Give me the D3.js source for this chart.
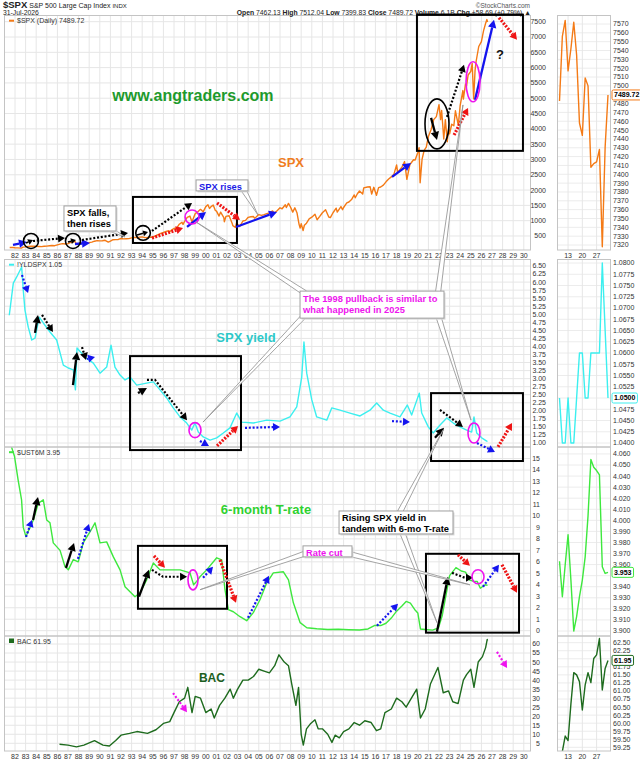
<!DOCTYPE html>
<html>
<head>
<meta charset="utf-8">
<script src="https://cdn.jsdelivr.net/npm/d3@7/dist/d3.min.js"></script>
<style>
html,body{margin:0;padding:0;background:#fff;}
svg{display:block;}
</style>
</head>
<body>
<svg id="chart" width="640" height="762"></svg>
<script>
// ---------------- DATA ----------------
const yearTicks=[1982,1983,1984,1985,1986,1987,1988,1989,1990,1991,1992,1993,1994,1995,1996,1997,1998,1999,2000,2001,2002,2003,2004,2005,2006,2007,2008,2009,2010,2011,2012,2013,2014,2015,2016,2017,2018,2019,2020,2021,2022,2023,2024,2025,2026,2027,2028,2029,2030];
const yearLabels=["82","83","84","85","86","87","88","89","90","91","92","93","94","95","96","97","98","99","00","01","02","03","04","05","06","07","08","09","10","11","12","13","14","15","16","17","18","19","20","21","22","23","24","25","26","27","28","29","30"];

const spxTicks=[500,1000,1500,2000,2500,3000,3500,4000,4500,5000,5500,6000,6500,7000,7500];
const yldTicks=[1.00,1.25,1.50,1.75,2.00,2.25,2.50,2.75,3.00,3.25,3.50,3.75,4.00,4.25,4.50,4.75,5.00,5.25,5.50,5.75,6.00,6.25,6.50];
const ustTicks=[0,1,2,3,4,5,6,7,8,9,10,11,12,13,14,15];
const bacTicks=[5,10,15,20,25,30,35,40,45,50,55,60];

// [decimal year, value]
const spxData=[[1981.5,126],[1981.8,122],[1982.0,115],[1982.25,111],[1982.6,104],[1982.75,135],[1983.0,145],[1983.25,160],[1983.5,168],[1983.75,165],[1984.0,165],[1984.25,158],[1984.5,152],[1984.75,166],[1985.0,170],[1985.25,181],[1985.5,190],[1985.75,183],[1986.0,211],[1986.25,236],[1986.5,250],[1986.75,240],[1987.0,250],[1987.25,290],[1987.5,305],[1987.65,330],[1987.8,225],[1988.0,245],[1988.25,265],[1988.5,272],[1988.75,276],[1989.0,285],[1989.25,300],[1989.5,330],[1989.75,350],[1990.0,340],[1990.25,345],[1990.5,360],[1990.8,300],[1991.0,330],[1991.25,378],[1991.5,380],[1991.75,387],[1992.0,417],[1992.25,405],[1992.5,412],[1992.75,415],[1993.0,437],[1993.25,450],[1993.5,448],[1993.75,462],[1994.0,470],[1994.25,445],[1994.5,452],[1994.75,462],[1995.0,460],[1995.25,502],[1995.5,545],[1995.75,584],[1996.0,615],[1996.25,650],[1996.5,670],[1996.6,640],[1996.75,690],[1997.0,745],[1997.25,760],[1997.5,885],[1997.75,950],[1997.85,880],[1998.0,975],[1998.25,1110],[1998.5,1150],[1998.7,960],[1998.85,1100],[1999.0,1230],[1999.25,1290],[1999.5,1370],[1999.75,1290],[2000.0,1460],[2000.2,1520],[2000.35,1400],[2000.5,1460],[2000.7,1510],[2000.9,1330],[2001.0,1320],[2001.25,1150],[2001.4,1280],[2001.7,1100],[2001.75,965],[2001.9,1140],[2002.0,1150],[2002.2,1160],[2002.5,900],[2002.55,840],[2002.8,780],[2002.9,930],[2003.0,880],[2003.2,810],[2003.5,990],[2003.75,1010],[2004.0,1110],[2004.25,1130],[2004.5,1135],[2004.6,1080],[2004.75,1120],[2005.0,1200],[2005.25,1175],[2005.5,1200],[2005.75,1230],[2006.0,1255],[2006.3,1320],[2006.45,1240],[2006.75,1335],[2007.0,1420],[2007.2,1390],[2007.5,1520],[2007.6,1430],[2007.8,1565],[2008.0,1440],[2008.2,1280],[2008.4,1420],[2008.6,1260],[2008.8,880],[2008.9,760],[2009.0,900],[2009.18,680],[2009.3,850],[2009.5,920],[2009.75,1060],[2010.0,1115],[2010.3,1210],[2010.5,1030],[2010.75,1140],[2011.0,1260],[2011.3,1360],[2011.6,1120],[2011.75,1100],[2012.0,1260],[2012.3,1410],[2012.4,1280],[2012.75,1460],[2012.9,1360],[2013.0,1430],[2013.3,1580],[2013.5,1610],[2013.75,1690],[2014.0,1840],[2014.1,1750],[2014.3,1880],[2014.5,1970],[2014.8,1870],[2014.9,2070],[2015.25,2100],[2015.5,2110],[2015.65,1870],[2015.85,2090],[2016.1,1830],[2016.3,2080],[2016.5,2100],[2016.75,2160],[2017.0,2270],[2017.25,2360],[2017.5,2430],[2017.75,2520],[2018.0,2820],[2018.1,2580],[2018.5,2750],[2018.75,2930],[2018.97,2350],[2019.25,2830],[2019.4,2900],[2019.6,2990],[2019.75,2980],[2020.0,3230],[2020.12,3386],[2020.22,2237],[2020.4,3000],[2020.6,3300],[2020.8,3400],[2021.0,3750],[2021.25,3970],[2021.5,4300],[2021.75,4400],[2022.0,4790],[2022.15,4300],[2022.25,4600],[2022.45,3670],[2022.6,4300],[2022.78,3580],[2022.9,4000],[2023.0,3840],[2023.2,4150],[2023.4,4100],[2023.55,4590],[2023.82,4120],[2024.0,4770],[2024.25,5250],[2024.3,4970],[2024.5,5470],[2024.6,5400],[2024.75,5760],[2025.0,5880],[2025.13,6140],[2025.27,4980],[2025.4,5900],[2025.5,6200],[2025.75,6690],[2026.0,6850],[2026.2,7200],[2026.4,7450],[2026.52,7570],[2026.58,7490]];

const yldData=[[1981.46,4.97],[1981.84,5.97],[1982.16,6.16],[1982.63,6.47],[1982.78,5.75],[1982.94,5.13],[1983.25,4.6],[1983.58,4.2],[1983.89,4.26],[1984.29,4.91],[1984.67,4.73],[1985.3,4.45],[1985.93,4.2],[1986.56,3.42],[1987.03,3.33],[1987.5,3.27],[1987.7,2.65],[1987.85,3.95],[1988.6,3.67],[1989.39,3.48],[1990.02,3.17],[1990.65,3.36],[1991.06,4.04],[1991.43,3.36],[1991.91,3.11],[1992.38,2.96],[1992.85,3.05],[1993.48,2.8],[1994.42,2.86],[1995.05,2.9],[1995.68,2.65],[1996.31,2.4],[1996.93,2.09],[1997.57,1.81],[1998.2,1.62],[1998.67,1.4],[1998.98,1.62],[1999.29,1.34],[1999.76,1.19],[2000.4,1.09],[2001.03,1.16],[2001.65,1.31],[2002.28,1.47],[2002.92,1.93],[2003.39,1.65],[2004.48,1.62],[2005.75,1.71],[2007.0,1.68],[2007.94,1.81],[2008.58,2.12],[2009.05,3.05],[2009.26,4.14],[2009.52,3.17],[2010.0,2.34],[2010.46,1.81],[2011.41,1.71],[2011.88,2.09],[2012.66,2.02],[2013.6,1.93],[2014.55,1.84],[2015.49,2.02],[2016.12,2.24],[2016.75,2.02],[2017.38,1.93],[2018.32,1.81],[2019.01,2.18],[2019.42,1.87],[2020.14,2.55],[2020.37,1.93],[2020.99,1.5],[2021.46,1.31],[2022.1,1.56],[2022.73,1.78],[2023.35,1.62],[2023.98,1.5],[2024.61,1.4],[2025.08,1.34],[2025.3,1.81],[2025.56,1.31],[2026.03,1.16],[2026.5,1.06],[2026.58,1.05]];

const ustData=[[1981.5,16.5],[1981.95,15.2],[1982.3,13.1],[1982.62,11.4],[1982.78,9.0],[1983.03,8.2],[1983.42,9.0],[1983.73,9.65],[1984.2,11.1],[1984.67,11.4],[1984.99,9.65],[1985.3,9.4],[1985.61,7.65],[1986.25,7.0],[1986.72,5.57],[1987.03,5.3],[1987.5,6.2],[1987.97,6.0],[1988.44,7.65],[1989.07,8.6],[1989.55,9.4],[1990.02,7.65],[1990.65,7.74],[1991.28,6.43],[1991.91,5.3],[1992.38,3.83],[1992.85,3.39],[1993.32,2.96],[1993.79,3.3],[1994.42,4.43],[1995.05,5.9],[1995.68,5.3],[1996.62,5.3],[1997.57,5.3],[1998.51,5.04],[1998.85,4.0],[1999.14,4.3],[1999.45,4.7],[2000.08,5.3],[2001.03,6.35],[2001.5,6.17],[2001.81,3.57],[2002.13,1.83],[2002.6,1.65],[2003.23,1.22],[2003.86,0.87],[2004.48,1.57],[2005.11,2.7],[2005.75,4.17],[2006.37,5.04],[2007.32,5.13],[2007.8,4.43],[2008.26,2.43],[2008.9,0.7],[2009.53,0.26],[2010.47,0.17],[2011.5,0.1],[2012.5,0.12],[2013.5,0.08],[2014.5,0.06],[2015.3,0.15],[2015.9,0.45],[2016.5,0.45],[2017.0,0.65],[2017.5,1.1],[2018.0,1.7],[2018.5,2.15],[2018.9,2.55],[2019.3,2.4],[2019.7,1.85],[2020.0,1.55],[2020.25,0.15],[2020.7,0.1],[2021.4,0.05],[2021.95,0.25],[2022.3,1.3],[2022.7,3.3],[2023.0,4.8],[2023.6,5.5],[2024.1,5.2],[2024.5,5.1],[2024.9,4.4],[2025.3,4.3],[2025.6,4.3],[2025.9,3.7],[2026.35,4.0],[2026.58,3.95]];

const bacData=[[1986.2,4.5],[1987.0,4.0],[1987.8,3.0],[1988.5,4.0],[1989.5,6.5],[1990.3,4.0],[1990.9,3.5],[1991.5,6.5],[1992.0,9.5],[1992.8,10.5],[1993.5,11.5],[1994.5,10.5],[1995.3,12.5],[1996.0,16],[1996.6,17],[1997.0,22],[1997.5,28],[1998.0,30],[1998.3,36],[1998.7,22],[1999.0,31],[1999.5,30],[2000.0,22],[2000.5,24],[2000.8,19],[2001.3,26],[2001.8,30],[2002.3,35],[2002.6,30],[2003.0,35],[2003.5,40],[2004.0,40],[2004.5,42],[2005.0,46],[2005.5,45],[2006.0,44],[2006.5,48],[2006.9,54],[2007.4,50],[2007.8,48],[2008.1,38],[2008.5,26],[2008.75,36],[2009.0,10],[2009.2,4],[2009.5,13],[2009.9,16],[2010.3,18],[2010.6,13],[2011.0,13],[2011.5,10],[2011.9,5.5],[2012.2,9.5],[2012.6,8],[2013.0,11.5],[2013.5,13],[2014.0,16.5],[2014.5,15],[2015.0,17.5],[2015.6,16.5],[2016.1,12],[2016.5,13],[2016.9,22],[2017.5,24],[2018.0,30],[2018.5,28],[2018.9,25],[2019.3,29],[2019.9,35],[2020.25,19],[2020.7,24],[2021.2,38],[2021.9,47],[2022.4,33],[2022.9,34],[2023.3,28],[2023.8,27],[2024.3,40],[2024.6,43],[2025.0,46],[2025.3,36],[2025.7,50],[2026.1,53],[2026.4,58],[2026.55,62.5],[2026.58,61.95]];

// last month (July 2026) inset panels
const miniDays=[8,9,10,13,14,15,16,17,20,21,22,23,24,27,28,29,30,31];
const miniDayTicks=[13,20,27];
const miniSpx=[7483,7556,7574,7517,7542,7572,7535,7458,7444,7509,7500,7408,7412,7414,7428,7318,7431,7489.72];
const miniYld=[1.05,1.04,1.04,1.05,1.04,1.04,1.05,1.06,1.06,1.05,1.05,1.06,1.06,1.06,1.06,1.08,1.065,1.05];
const miniUst=[3.963,3.931,3.96,3.987,3.946,3.900,3.913,3.931,3.946,3.967,4.004,4.055,4.048,4.045,4.041,3.958,3.952,3.953];
const miniBac=[58.7,59.12,59.6,59.46,60.6,61.57,61.5,61.29,60.41,61.19,61.57,61.26,62.01,62.12,62.63,61.03,61.7,61.95];
const miniSpxTicks=[7320,7330,7340,7350,7360,7370,7380,7390,7400,7410,7420,7430,7440,7450,7460,7470,7480,7490,7500,7510,7520,7530,7540,7550,7560,7570];
const miniYldTicks=[1.04,1.0425,1.045,1.0475,1.05,1.0525,1.055,1.0575,1.06,1.0625,1.065,1.0675,1.07,1.0725,1.075,1.0775,1.08];
const miniUstTicks=[3.90,3.91,3.92,3.93,3.94,3.95,3.96,3.97,3.98,3.99,4.00,4.01,4.02,4.03,4.04,4.05,4.06];
const miniBacTicks=[59.25,59.5,59.75,60,60.25,60.5,60.75,61,61.25,61.5,61.75,62,62.25,62.5];

// ---------------- ANNOTATIONS (data coordinates: panel, year, value) ----------------
const annoBoxes=[
 {p:0,x0:1993.13,x1:2002.94,y0:1776,y1:272},
 {p:0,x0:2019.92,x1:2029.92,y0:7730,y1:3281},
 {p:1,x0:1992.85,x1:2003.32,y0:3.70,y1:0.78},
 {p:1,x0:2021.25,x1:2029.92,y0:2.55,y1:0.44},
 {p:2,x0:1993.6,x1:2002.0,y0:7.39,y1:1.91},
 {p:2,x0:2020.77,x1:2029.55,y0:6.70,y1:-0.17}
];
const annoArrows=[
 {p:0,pts:[[1981.81,206],[1983.13,304]],c:"blue",d:false},
 {p:0,pts:[[1983.04,272],[1983.7,370]],c:"black",d:false,s:true},
 {p:0,pts:[[1983.7,337],[1986.72,435]],c:"black",d:true},
 {p:0,pts:[[1987.0,304],[1987.75,370]],c:"black",d:false,s:true},
 {p:0,pts:[[1987.66,239],[1989.08,272]],c:"blue",d:false},
 {p:0,pts:[[1988.32,370],[1992.66,599]],c:"black",d:true},
 {p:0,pts:[[1993.51,533],[1994.55,631]],c:"black",d:false,s:true},
 {p:0,pts:[[1994.92,664],[1998.7,1580]],c:"black",d:true},
 {p:0,pts:[[1994.92,435],[1997.85,762]],c:"red",d:true},
 {p:0,pts:[[1998.23,795],[2000.02,1286]],c:"blue",d:false},
 {p:0,pts:[[2001.06,1580],[2003.23,1024]],c:"red",d:true},
 {p:0,pts:[[2002.85,795],[2006.72,1286]],c:"blue",d:false},
 {p:0,pts:[[2017.57,2430],[2019.36,2888]],c:"blue",d:false},
 {p:0,pts:[[2021.25,4357],[2021.81,3638]],c:"black",d:false},
 {p:0,pts:[[2022.75,4390],[2024.36,6091]],c:"black",d:true},
 {p:0,pts:[[2023.42,3801],[2024.74,4684]],c:"red",d:true},
 {p:0,pts:[[2025.4,4946],[2027.19,7566]],c:"blue",d:false},
 {p:0,pts:[[2027.66,7632],[2029.36,6912]],c:"red",d:true},
 {p:1,pts:[[1982.66,6.22],[1983.23,5.66]],c:"blue",d:true},
 {p:1,pts:[[1983.89,4.42],[1984.17,4.98]],c:"black",d:false},
 {p:1,pts:[[1984.55,4.98],[1985.58,4.45]],c:"black",d:true},
 {p:1,pts:[[1987.47,2.80],[1987.85,3.83]],c:"black",d:false},
 {p:1,pts:[[1988.32,3.98],[1988.7,3.58]],c:"black",d:true},
 {p:1,pts:[[1988.79,3.61],[1989.55,3.67]],c:"blue",d:true},
 {p:1,pts:[[1993.6,2.55],[1994.45,2.71]],c:"black",d:false},
 {p:1,pts:[[1994.45,2.96],[1995.21,2.96],[1998.23,1.71]],c:"black",d:true},
 {p:1,pts:[[1999.45,1.06],[2000.3,0.91]],c:"blue",d:true},
 {p:1,pts:[[2001.06,0.91],[2003.04,1.53]],c:"red",d:true},
 {p:1,pts:[[2003.7,1.47],[2007.0,1.50]],c:"blue",d:true},
 {p:1,pts:[[2017.57,1.68],[2019.26,1.65]],c:"blue",d:true},
 {p:1,pts:[[2022.09,2.03],[2024.26,1.50]],c:"black",d:true},
 {p:1,pts:[[2021.62,1.16],[2022.47,1.47]],c:"black",d:false},
 {p:1,pts:[[2025.58,1.0],[2027.28,0.72]],c:"blue",d:true},
 {p:1,pts:[[2027.57,0.88],[2028.89,1.62]],c:"red",d:true},
 {p:2,pts:[[1983.04,8.17],[1983.6,9.65]],c:"blue",d:true},
 {p:2,pts:[[1983.7,9.65],[1984.17,11.65]],c:"black",d:false},
 {p:2,pts:[[1986.81,5.48],[1987.57,7.65]],c:"black",d:false},
 {p:2,pts:[[1987.94,6.26],[1988.98,9.30]],c:"blue",d:true},
 {p:2,pts:[[1993.7,2.96],[1994.64,5.30]],c:"black",d:false},
 {p:2,pts:[[1994.92,5.30],[1995.96,4.70],[1998.23,4.70]],c:"black",d:true},
 {p:2,pts:[[1995.11,6.52],[1996.15,5.48]],c:"red",d:true},
 {p:2,pts:[[1999.74,4.61],[2000.68,5.57]],c:"blue",d:true},
 {p:2,pts:[[2001.34,6.17],[2002.85,2.43]],c:"red",d:true},
 {p:2,pts:[[2003.98,1.13],[2005.96,4.78]],c:"blue",d:true},
 {p:2,pts:[[2016.15,0.43],[2018.13,2.35]],c:"blue",d:true},
 {p:2,pts:[[2021.81,-0.09],[2022.85,4.70]],c:"black",d:false},
 {p:2,pts:[[2023.23,5.04],[2024.45,4.61],[2025.21,4.61]],c:"black",d:true},
 {p:2,pts:[[2023.79,6.61],[2024.92,5.65]],c:"red",d:true},
 {p:2,pts:[[2026.15,3.83],[2027.66,5.74]],c:"blue",d:true},
 {p:2,pts:[[2027.94,5.74],[2029.36,3.30]],c:"red",d:true},
 {p:3,pts:[[1996.91,32.8],[1998.23,22.2]],c:"magenta",d:true},
 {p:3,pts:[[2027.47,55.6],[2028.42,46.7]],c:"magenta",d:true}
];
const annoEllipses=[
 {p:0,x:1983.51,y:337,rx:7.5,ry:7.5,c:"black"},
 {p:0,x:1987.47,y:337,rx:7.5,ry:7.5,c:"black"},
 {p:0,x:1994.08,y:599,rx:7.3,ry:7.3,c:"black"},
 {p:0,x:1998.7,y:1122,rx:7,ry:7,c:"magenta"},
 {p:0,x:2021.81,y:4163,rx:12,ry:25,c:"black"},
 {p:0,x:2025.21,y:5538,rx:7,ry:20,c:"magenta"},
 {p:1,x:1998.98,y:1.40,rx:6,ry:7.5,c:"magenta"},
 {p:1,x:2025.3,y:1.31,rx:6,ry:10,c:"magenta"},
 {p:2,x:1998.79,y:4.43,rx:5,ry:10,c:"magenta"},
 {p:2,x:2025.68,y:4.70,rx:6,ry:7,c:"magenta"}
];
const annoTexts=[
 {p:0,x:1998.79,y:5083,t:"www.angtraders.com",size:16,c:"#1e9a2c"},
 {p:0,x:2008.04,y:2888,t:"SPX",size:13,c:"#f07d1e"},
 {p:0,x:2027.75,y:6421,t:"?",size:13,c:"#111"},
 {p:1,x:2003.79,y:4.29,t:"SPX yield",size:13,c:"#2ec8c8"},
 {p:2,x:2005.68,y:10.6,t:"6-month T-rate",size:13,c:"#2fd12f"},
 {p:3,x:2000.58,y:41.1,t:"BAC",size:12,c:"#1b5e20"}
];
const annoCallouts=[
 {p:0,x0:1986.62,x1:1991.53,y0:1482,y1:664,lines:["SPX falls,","then rises"],c:"#000",
  tails:[{from:[0,1990.77,762],to:[0,1992.38,468]}]},
 {p:0,x0:1999.08,x1:2003.98,y0:2332,y1:1973,lines:["SPX rises"],c:"#1a1ae6",
  tails:[{from:[0,2003.51,2038],to:[0,2004.92,1188]}]},
 {p:1,x0:2008.89,x1:2022.47,y0:5.72,y1:4.88,lines:["The 1998 pullback is similar to","what happened in 2025"],c:"#ee14ee",
  tails:[{from:[1,2009.36,5.66],to:[0,1999.08,958]},{from:[1,2009.36,4.98],to:[1,1999.74,1.65]},
         {from:[1,2021.9,5.66],to:[0,2024.26,4782]},{from:[1,2021.9,4.98],to:[1,2025.02,1.71]}]},
 {p:2,x0:2012.57,x1:2023.32,y0:10.43,y1:8.43,lines:["Rising SPX yield in","tandem with 6-mo T-rate"],c:"#000",
  tails:[{from:[2,2018.32,10.35],to:[1,2022.38,1.40]},{from:[2,2018.51,8.61],to:[2,2021.81,0.70]}]},
 {p:2,x0:2009.17,x1:2013.79,y0:7.39,y1:6.43,lines:["Rate cut"],c:"#ee14ee",
  tails:[{from:[2,2009.83,6.87],to:[2,1999.45,3.57]},{from:[2,2013.13,6.79],to:[2,2024.92,4.0]}]}
];

// ---------------- LAYOUT ----------------
const F='"Liberation Sans", Arial, Helvetica, sans-serif';
const svg=d3.select("#chart");
const PL=4, PR=531, ML=557, MR=611;
const xMain=d3.scaleLinear().domain([1982,2030]).range([15,523.8]);
const xMini=d3.scaleLinear().domain([0,miniDays.length-1]).range([559.5,608]);
const COLORS={blue:"#1414ee",black:"#000",red:"#ee1414",magenta:"#ee14ee"};

const panels=[
 {top:15.5,bottom:250,y:d3.scaleLinear().domain([0,7500]).range([251.3,21.7]),ticks:spxTicks,fmt:d3.format("d"),labX:546,
  color:"#f47a16",data:spxData,my:d3.scaleLinear().domain([7320,7570]).range([245,24]),mticks:miniSpxTicks,mfmt:d3.format(".0f"),
  mdata:miniSpx,last:7489.72,lastTxt:"7489.72",legend:"$SPX (Daily) 7489.72",marker:"line",lw:1.4},
 {top:259.5,bottom:447,y:d3.scaleLinear().domain([1,6.5]).range([443,266]),ticks:yldTicks,fmt:d3.format(".2f"),labX:546,
  color:"#3cefef",data:yldData,my:d3.scaleLinear().domain([1.04,1.08]).range([443,263]),mticks:miniYldTicks,mfmt:d3.format(".4f"),
  mdata:miniYld,last:1.05,lastTxt:"1.0500",legend:"!YLDSPX 1.05",marker:"line",lw:1.4},
 {top:447,bottom:636,y:d3.scaleLinear().domain([0,14]).range([630.7,470]),ticks:ustTicks,fmt:d3.format("d"),labX:540,
  color:"#3ee83e",data:ustData,my:d3.scaleLinear().domain([3.9,4.05]).range([631,465]),mticks:miniUstTicks,mfmt:d3.format(".3f"),
  mdata:miniUst,last:3.953,lastTxt:"3.953",legend:"$UST6M 3.95",marker:"line",lw:1.4},
 {top:636,bottom:751,y:d3.scaleLinear().domain([5,60]).range([743.3,644]),ticks:bacTicks,fmt:d3.format("d"),labX:540,
  color:"#1e6b1e",data:bacData,my:d3.scaleLinear().domain([59.25,62.5]).range([747.3,642.7]),mticks:miniBacTicks,mfmt:d3.format(".2f"),
  mdata:miniBac,last:61.95,lastTxt:"61.95",legend:"BAC 61.95",marker:"box",lw:1.4}
];

svg.append("rect").attr("width",640).attr("height",762).attr("fill","#fff");
const defs=svg.append("defs");
const gGrid=svg.append("g"), gSer=svg.append("g"), gFrame=svg.append("g"), gAnno=svg.append("g"), gTop=svg.append("g");

panels.forEach((P,i)=>{
  defs.append("clipPath").attr("id","cm"+i).append("rect").attr("x",PL).attr("y",P.top).attr("width",PR-PL).attr("height",P.bottom-P.top);
  defs.append("clipPath").attr("id","cs"+i).append("rect").attr("x",ML).attr("y",P.top).attr("width",MR-ML).attr("height",P.bottom-P.top);
  gGrid.selectAll(null).data(P.ticks.filter(t=>P.y(t)>P.top+1&&P.y(t)<P.bottom-1)).join("line")
    .attr("x1",PL).attr("x2",PR).attr("y1",d=>P.y(d)).attr("y2",d=>P.y(d)).attr("stroke","#e6e6e6").attr("stroke-width",1);
  gGrid.selectAll(null).data(yearTicks).join("line")
    .attr("x1",d=>xMain(d)).attr("x2",d=>xMain(d)).attr("y1",P.top).attr("y2",P.bottom).attr("stroke","#e6e6e6").attr("stroke-width",1);
  gGrid.selectAll(null).data(P.mticks.filter(t=>P.my(t)>P.top+1&&P.my(t)<P.bottom-1)).join("line")
    .attr("x1",ML).attr("x2",MR).attr("y1",d=>P.my(d)).attr("y2",d=>P.my(d)).attr("stroke","#ececec");
  gGrid.selectAll(null).data(miniDayTicks).join("line")
    .attr("x1",d=>xMini(miniDays.indexOf(d))).attr("x2",d=>xMini(miniDays.indexOf(d))).attr("y1",P.top).attr("y2",P.bottom).attr("stroke","#e6e6e6");
  gSer.append("path").attr("clip-path",`url(#cm${i})`)
    .attr("d",d3.line().x(d=>xMain(d[0])).y(d=>P.y(d[1]))(P.data))
    .attr("fill","none").attr("stroke",P.color).attr("stroke-width",P.lw).attr("stroke-linejoin","round");
  gSer.append("path").attr("clip-path",`url(#cs${i})`)
    .attr("d",d3.line().x((d,k)=>xMini(k)).y(d=>P.my(d))(P.mdata))
    .attr("fill","none").attr("stroke",P.color).attr("stroke-width",1.4).attr("stroke-linejoin","round");
  gFrame.append("rect").attr("x",PL+0.5).attr("y",P.top).attr("width",PR-PL-1).attr("height",P.bottom-P.top).attr("fill","none").attr("stroke","#c4c4c4");
  gFrame.append("rect").attr("x",ML+0.5).attr("y",P.top).attr("width",MR-ML-1).attr("height",P.bottom-P.top).attr("fill","none").attr("stroke","#c4c4c4");
  gFrame.selectAll(null).data(P.ticks.filter(t=>P.y(t)>P.top+2&&P.y(t)<P.bottom-2)).join("text")
    .attr("x",P.labX).attr("y",d=>P.y(d)).attr("dy","0.35em").attr("text-anchor","end")
    .attr("font-family",F).attr("font-size",7).attr("fill","#333").text(d=>P.fmt(d));
  const ly=P.my(P.last);
  gFrame.selectAll(null).data(P.mticks.filter(t=>P.my(t)>P.top+2&&P.my(t)<P.bottom-2&&Math.abs(P.my(t)-ly)>6)).join("text")
    .attr("x",613).attr("y",d=>P.my(d)).attr("dy","0.35em")
    .attr("font-family",F).attr("font-size",7).attr("fill","#333").text(d=>P.mfmt(d));
  const bt=gFrame.append("text").attr("x",614).attr("y",ly).attr("dy","0.35em").attr("font-family",F).attr("font-size",7)
    .attr("font-weight","bold").attr("fill","#000").text(P.lastTxt);
  const w=bt.node().getComputedTextLength();
  gFrame.append("rect").attr("x",612).attr("y",ly-5).attr("width",w+4).attr("height",10).attr("rx",1.5)
    .attr("fill","#fff").attr("stroke",P.color).attr("stroke-width",1);
  bt.raise();
  const legY=P.top+7.5;
  if(P.marker==="line"){
    gFrame.append("line").attr("x1",9).attr("x2",14).attr("y1",legY-2.3).attr("y2",legY-2.3).attr("stroke",P.color).attr("stroke-width",2);
  } else {
    gFrame.append("rect").attr("x",9).attr("y",legY-5).attr("width",5).attr("height",4.5).attr("fill",P.color);
  }
  gFrame.append("text").attr("x",17).attr("y",legY).attr("font-family",F).attr("font-size",7).attr("fill","#333").text(P.legend);
});

[257.6,759].forEach(yy=>{
  gFrame.selectAll(null).data(yearTicks).join("text").attr("x",d=>xMain(d)).attr("y",yy).attr("text-anchor","middle")
    .attr("font-family",F).attr("font-size",7).attr("fill","#333").text((d,i)=>yearLabels[i]);
  gFrame.selectAll(null).data(miniDayTicks).join("text").attr("x",d=>xMini(miniDays.indexOf(d))).attr("y",yy).attr("text-anchor","middle")
    .attr("font-family",F).attr("font-size",7).attr("fill","#333").text(d=>d);
});

// ---------------- ANNOTATIONS ----------------
const px=(p,x,y)=>[xMain(x),panels[p].y(y)];

annoBoxes.forEach(b=>{
  const a=px(b.p,b.x0,b.y0), c=px(b.p,b.x1,b.y1);
  gAnno.append("rect").attr("x",a[0]).attr("y",a[1]).attr("width",c[0]-a[0]).attr("height",c[1]-a[1])
    .attr("fill","none").attr("stroke","#000").attr("stroke-width",2);
});

function drawArrow(pts,color,dotted,small){
  const n=pts.length, a=pts[n-2], b=pts[n-1];
  const dx=b[0]-a[0], dy=b[1]-a[1], L=Math.hypot(dx,dy), ux=dx/L, uy=dy/L;
  const hl=small?5:(dotted?7:8), hw=small?3:(dotted?4:4.2);
  const base=[b[0]-ux*hl,b[1]-uy*hl];
  const line=pts.slice(0,n-1).concat([base]);
  const isRed=color===COLORS.red;
  gAnno.append("path").attr("d",d3.line()(line)).attr("fill","none").attr("stroke",color)
    .attr("stroke-width",dotted?(isRed?3.2:2.2):(small?1.6:2.3))
    .attr("stroke-dasharray",dotted?(isRed?"2,1.4":"2,1.8"):null);
  gAnno.append("path").attr("d",`M${b[0]},${b[1]}L${base[0]-uy*hw},${base[1]+ux*hw}L${base[0]+uy*hw},${base[1]-ux*hw}Z`).attr("fill",color);
}
annoArrows.forEach(a=>drawArrow(a.pts.map(p=>px(a.p,p[0],p[1])),COLORS[a.c],a.d,a.s));

annoEllipses.forEach(e=>{
  const c=px(e.p,e.x,e.y);
  gAnno.append("ellipse").attr("cx",c[0]).attr("cy",c[1]).attr("rx",e.rx).attr("ry",e.ry)
    .attr("fill","none").attr("stroke",COLORS[e.c]).attr("stroke-width",1.6);
});

annoTexts.forEach(t=>{
  const c=px(t.p,t.x,t.y);
  gAnno.append("text").attr("x",c[0]).attr("y",c[1]).attr("dy","0.35em").attr("text-anchor","middle")
    .attr("font-family",F).attr("font-weight","bold").attr("font-size",t.size).attr("fill",t.c).text(t.t);
});

annoCallouts.forEach(co=>{
  co.tails.forEach(t=>{
    const B=px(t.from[0],t.from[1],t.from[2]), T=px(t.to[0],t.to[1],t.to[2]);
    const dx=T[0]-B[0], dy=T[1]-B[1], L=Math.hypot(dx,dy), nx=-dy/L, ny=dx/L, h=2.6;
    gAnno.append("path").attr("d",`M${B[0]+nx*h},${B[1]+ny*h}L${T[0]},${T[1]}L${B[0]-nx*h},${B[1]-ny*h}Z`)
      .attr("fill","#fff").attr("stroke","#9a9a9a").attr("stroke-width",0.9);
  });
  const a=px(co.p,co.x0,co.y0), c=px(co.p,co.x1,co.y1);
  gAnno.append("rect").attr("x",a[0]+1.5).attr("y",a[1]+1.5).attr("width",c[0]-a[0]).attr("height",c[1]-a[1]).attr("fill","#d8d8d8");
  gAnno.append("rect").attr("x",a[0]).attr("y",a[1]).attr("width",c[0]-a[0]).attr("height",c[1]-a[1])
    .attr("fill","#fff").attr("stroke","#a0a0a0").attr("stroke-width",1);
  co.lines.forEach((ln,k)=>{
    gAnno.append("text").attr("x",a[0]+3).attr("y",a[1]+10.5+k*11).attr("font-family",F).attr("font-weight","bold")
      .attr("font-size",9.3).attr("fill",co.c).text(ln);
  });
});

// ---------------- HEADER ----------------
const h1=gTop.append("text").attr("x",3).attr("y",8).attr("font-family",F).attr("fill","#222");
h1.append("tspan").attr("font-weight","bold").attr("font-size",9.5).text("$SPX");
h1.append("tspan").attr("font-size",7).text(" S&P 500 Large Cap Index ");
h1.append("tspan").attr("font-size",6).text("INDX");
gTop.append("text").attr("x",530).attr("y",7.5).attr("text-anchor","end").attr("font-family",F).attr("font-size",6.5).attr("fill","#555").text("©StockCharts.com");
gTop.append("text").attr("x",3).attr("y",15).attr("font-family",F).attr("font-size",6.8).attr("fill","#222").text("31-Jul-2026");
const h2=gTop.append("text").attr("x",531).attr("y",14.5).attr("text-anchor","end").attr("font-family",F).attr("font-size",6.8).attr("fill","#222");
[["Open"," 7462.13 "],["High"," 7512.04 "],["Low"," 7399.83 "],["Close"," 7489.72 "],["Volume"," 6.1B "],["Chg"," +58.69 (+0.79%) ▲"]].forEach(([k,v])=>{
  h2.append("tspan").attr("font-weight","bold").text(k);
  h2.append("tspan").text(v);
});
gTop.append("line").attr("x1",xMain(annoBoxes[1].x0)).attr("x2",xMain(annoBoxes[1].x1))
  .attr("y1",panels[0].y(annoBoxes[1].y0)).attr("y2",panels[0].y(annoBoxes[1].y0)).attr("stroke","#000").attr("stroke-width",2);
</script>
</body>
</html>
